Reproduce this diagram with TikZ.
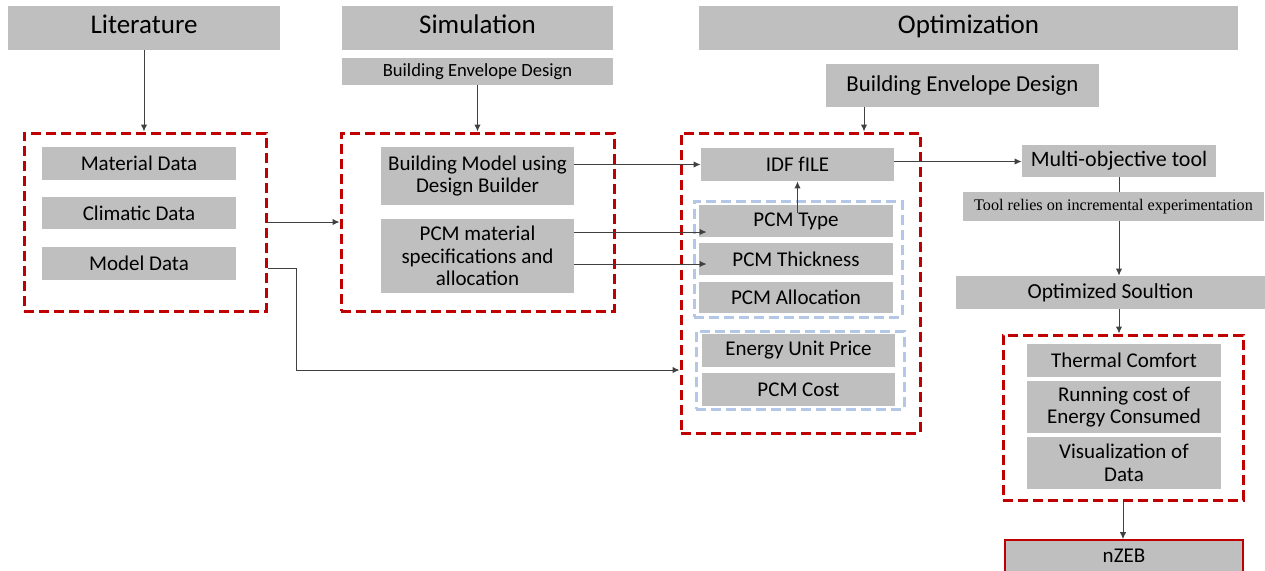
\documentclass[tikz,border=0pt]{standalone}
\usepackage{fontspec}
\setmainfont{Carlito}
\newfontfamily\timesf{Liberation Serif}
\usetikzlibrary{arrows.meta,calc}
\definecolor{boxgray}{HTML}{BFBFBF}
\definecolor{redc}{HTML}{C00000}
\definecolor{bluec}{HTML}{B4C7E7}
\definecolor{arrowc}{HTML}{404040}
\tikzset{
  span/.style args={#1/#2/#3/#4}{at={({(#1+#3)/2},{(#2+#4)/2})}, minimum width={(#3-#1)*0.5pt}, minimum height={(#4-#2)*0.5pt}},
  gbox/.style={fill=boxgray, inner sep=0pt, align=center, font=\fontsize{10.5}{11.3}\selectfont},
  hdr/.style={gbox, font=\fontsize{13.5}{16}\selectfont, text height=9.5pt, text depth=4.5pt},
  redbox/.style={draw=redc, line width=1.5pt, dash pattern=on 5pt off 2.5pt, inner sep=0pt},
  bluebox/.style={draw=bluec, line width=1.5pt, dash pattern=on 5pt off 2.5pt, inner sep=0pt},
  conn/.style={draw=arrowc, line width=0.5pt},
  arr/.style={conn, -{Latex[length=3.5pt,width=3.2pt]}}
}
\begin{document}
\begin{tikzpicture}[x=0.5pt,y=-0.5pt]
\useasboundingbox (0,0) rectangle (1265,570);
\clip (0,0) rectangle (1265,570);
% headers
\node[hdr, span=8/6/280/50] (lit) {Literature};
\node[hdr, span=342/6/613/50] (sim) {Simulation};
\node[hdr, span=699/6/1238/50] (opt) {Optimization};
\node[gbox, font=\fontsize{9.3}{11}\selectfont, span=342/58/613/85] (simbed) {Building Envelope Design};
\node[gbox, font=\fontsize{11.4}{13}\selectfont, span=826/64/1099/107] (optbed) {Building Envelope Design};
% group frames
\node[redbox, span=24/133/266/311] (red1) {};
\node[redbox, span=341/133/614/311] (red2) {};
\node[redbox, span=681/133/920/433] (red3) {};
\node[bluebox, span=694/201/902/317] (blue1) {};
\node[bluebox, span=696/331/904/409] (blue2) {};
\node[redbox, span=1003/335/1243/500] (red4) {};
% literature items
\node[gbox, span=42/147/236/180] (mat) {Material Data};
\node[gbox, span=42/197/236/229] (clim) {Climatic Data};
\node[gbox, span=42/247/236/280] (model) {Model Data};
% simulation items
\node[gbox, span=381/147/574/205] (bm) {Building Model using\\Design Builder};
\node[gbox, span=381/219/574/293] (pcm) {PCM material\\specifications and\\allocation};
% optimization items
\node[gbox, span=701/148/894/181] (idf) {IDF fILE};
\node[gbox, span=699/205/893/237] (type) {PCM Type};
\node[gbox, span=699/243/893/275] (thick) {PCM Thickness};
\node[gbox, span=699/282/893/313] (alloc) {PCM Allocation};
\node[gbox, span=702/334/895/367] (energy) {Energy Unit Price};
\node[gbox, span=702/373/895/406] (cost) {PCM Cost};
% right column
\node[gbox, font=\fontsize{11}{13}\selectfont, span=1022/145/1216/177] (multi) {Multi-objective tool};
\node[gbox, font=\timesf\fontsize{8.1}{9}\selectfont, span=963/192/1264/221] (tool) {Tool relies on incremental experimentation};
\node[gbox, font=\fontsize{10.7}{13}\selectfont, span=956/276/1265/309] (optsol) {Optimized Soultion};
\node[gbox, span=1027/344/1221/377] (thermal) {Thermal Comfort};
\node[gbox, span=1027/381/1221/433] (run) {Running cost of\\Energy Consumed};
\node[gbox, span=1027/437/1221/489] (vis) {Visualization of\\Data};
\node[gbox, draw=redc, line width=0.8pt, span=1005/540/1243/572] (nzeb) {nZEB};
% connectors
\coordinate (o3) at (864,107);
\coordinate (mbend) at (296,268);
\draw[arr] (lit.south) -- (lit.south |- red1.north);
\draw[arr] (simbed.south) -- (simbed.south |- red2.north);
\draw[arr] (o3) -- (o3 |- red3.north);
\draw[arr] (red1.east) -- (red1.east -| red2.west);
\draw[arr] (mbend -| red1.east) -- (mbend) |- (blue2.west -| red3.west);
\draw[arr] (bm.east |- idf.west) -- (idf.west);
\draw[arr] ([yshift=-5.5pt]pcm.east |- type.west) -- ([yshift=-5.5pt,xshift=4pt]type.west);
\draw[arr] ([yshift=-2.5pt]pcm.east |- thick.west) -- ([yshift=-2.5pt,xshift=4pt]thick.west);
\draw[arr] ([yshift=-4pt]idf.south |- type.north) -- (idf.south);
\draw[arr] ([yshift=1.5pt]idf.east) -- ([yshift=1.5pt]idf.east -| multi.west);
\draw[conn] (multi.south) -- (multi.south |- tool.north);
\draw[arr] (multi.south |- tool.south) -- (multi.south |- optsol.north);
\draw[arr] (multi.south |- optsol.south) -- (multi.south |- red4.north);
\draw[arr] (red4.south) -- (red4.south |- nzeb.north);
\end{tikzpicture}
\end{document}
